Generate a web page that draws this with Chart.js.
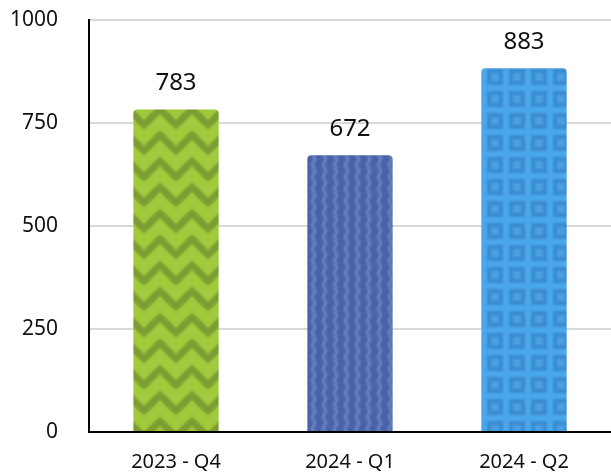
<!DOCTYPE html>
<html>
<head>
<meta charset="utf-8">
<script src="https://cdn.jsdelivr.net/npm/chart.js@4"></script>
<style>
  html, body { margin: 0; padding: 0; background: #fff; }
</style>
</head>
<body>
<canvas id="chart" width="611" height="475"></canvas>
<script>
const categories = ['2023 - Q4', '2024 - Q1', '2024 - Q2'];
const sales = [783, 672, 883];
const yTicks = [0, 250, 500, 750, 1000];

// pattern tiles
function zigzag() {
  const c = document.createElement('canvas');
  c.width = 32; c.height = 26;
  const g = c.getContext('2d');
  g.fillStyle = '#a2ca3d';
  g.fillRect(0, 0, 32, 26);
  g.strokeStyle = '#7c9d31';
  g.lineWidth = 7;
  g.lineJoin = 'round';
  g.filter = 'blur(1.2px)';
  for (const dy of [-26, 0, 26]) {
    g.beginPath();
    g.moveTo(-16, 21 + dy); g.lineTo(0, 5 + dy); g.lineTo(16, 21 + dy); g.lineTo(32, 5 + dy); g.lineTo(48, 21 + dy);
    g.stroke();
  }
  return g.createPattern(c, 'repeat');
}
function wavy() {
  const c = document.createElement('canvas');
  c.width = 11; c.height = 12;
  const g = c.getContext('2d');
  g.fillStyle = '#4962a8';
  g.fillRect(0, 0, 11, 12);
  g.strokeStyle = '#6a83c2';
  g.lineWidth = 3;
  g.filter = 'blur(0.8px)';
  g.beginPath();
  g.moveTo(4, -2); g.lineTo(7, 3); g.lineTo(4, 9); g.lineTo(7, 14);
  g.stroke();
  return g.createPattern(c, 'repeat');
}
function squares() {
  const c = document.createElement('canvas');
  c.width = 22; c.height = 22;
  const g = c.getContext('2d');
  g.fillStyle = '#4aa7ec';
  g.fillRect(0, 0, 22, 22);
  g.filter = 'blur(0.8px)';
  g.fillStyle = '#3b8bcf';
  g.fillRect(3, 3, 16, 16);
  g.fillStyle = '#4a9fe0';
  g.fillRect(7, 7, 8, 8);
  return g.createPattern(c, 'repeat');
}

const labelPlugin = {
  id: 'valueLabels',
  afterDatasetsDraw(chart) {
    const ctx = chart.ctx;
    const meta = chart.getDatasetMeta(0);
    ctx.save();
    ctx.font = '24px "Noto Sans"';
    ctx.fillStyle = '#111';
    ctx.textAlign = 'center';
    ctx.textBaseline = 'bottom';
    meta.data.forEach((bar, i) => {
      ctx.fillText(sales[i], bar.x, bar.y - 14);
    });
    ctx.restore();
  }
};

new Chart(document.getElementById('chart'), {
  type: 'bar',
  data: {
    labels: categories,
    datasets: [{
      data: sales,
      backgroundColor: [zigzag(), wavy(), squares()],
      borderRadius: { topLeft: 4, topRight: 4 },
      borderSkipped: 'bottom',
      categoryPercentage: 0.98,
      barPercentage: 0.5
    }]
  },
  options: {
    responsive: false,
    animation: false,
    layout: { padding: { top: 20, right: 0, left: 0, bottom: 0 } },
    plugins: { legend: { display: false }, tooltip: { enabled: false } },
    scales: {
      y: {
        min: 0, max: 1000,
        afterBuildTicks: (axis) => { axis.ticks = yTicks.map(v => ({ value: v })); },
        afterFit: (axis) => { axis.width = 89; axis.paddingTop = 0; axis.paddingBottom = 0; },
        grid: { color: '#d9d9d9', lineWidth: 2, drawTicks: false },
        border: { color: '#000', width: 2 },
        ticks: { padding: 31, color: '#111', font: { family: 'Noto Sans', size: 21 }, callback: (v) => String(v) }
      },
      x: {
        afterFit: (axis) => { axis.height = 43; axis.paddingRight = 0; axis.paddingLeft = 0; },
        grid: { display: false, drawTicks: false },
        border: { color: '#000', width: 2 },
        ticks: { padding: 18, color: '#111', font: { family: 'Noto Sans', size: 20 } }
      }
    }
  },
  plugins: [labelPlugin]
});
</script>
</body>
</html>
